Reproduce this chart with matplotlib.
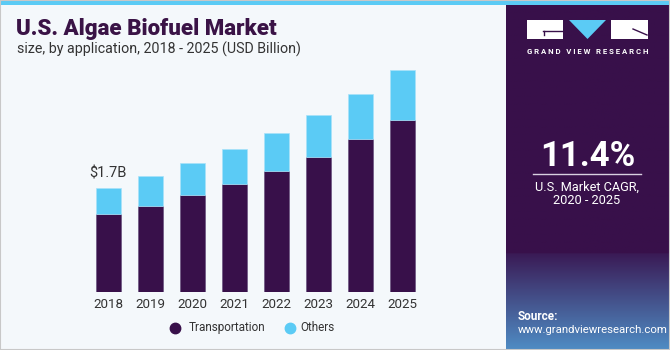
import matplotlib
matplotlib.use("Agg")
import matplotlib.pyplot as plt
import numpy as np
from matplotlib.patches import Rectangle, Polygon
from matplotlib.lines import Line2D

years = ["2018", "2019", "2020", "2021", "2022", "2023", "2024", "2025"]
transportation = [1.27, 1.41, 1.58, 1.76, 1.97, 2.21, 2.50, 2.81]
others = [0.43, 0.49, 0.52, 0.58, 0.62, 0.69, 0.74, 0.82]
first_label = "$1.7B"

W, H = 670, 350
DARK = "#38104a"
BLUE = "#5bcbf5"
BG = "#f4f8fb"

plt.rcParams['font.family'] = ['Roboto', 'DejaVu Sans']

fig = plt.figure(figsize=(W / 100, H / 100), dpi=100)
fig.patch.set_facecolor(BG)

def fx(px):
    return px / W

def fy(py):
    return 1 - py / H

# top stripe
fig.patches.append(Rectangle((0, fy(5)), 1, 5 / H, transform=fig.transFigure,
                             facecolor=BLUE, edgecolor='none', zorder=0))

# chart axes
left_px, right_px = 78.9, 431.9
bot_px, top_px = 292.0, 47.2
ax = fig.add_axes([fx(left_px), fy(bot_px), (right_px - left_px) / W, (bot_px - top_px) / H])
ax.set_facecolor('none')
x = np.arange(len(years))
ax.bar(x, transportation, width=0.59, color=DARK, edgecolor='#6b5580', linewidth=0.5)
ax.bar(x, others, width=0.59, bottom=transportation, color=BLUE, edgecolor='#a8e2f9', linewidth=0.5)
ax.set_xlim(-0.7, 7.7)
ax.set_ylim(0, 4.0)
for s in ax.spines.values():
    s.set_visible(False)
ax.set_yticks([])
ax.set_xticks(x)
ax.set_xticklabels(years, fontsize=9.6, color='#333333')
ax.tick_params(axis='x', length=0, pad=4)
ax.text(0, transportation[0] + others[0] + 0.12, first_label, ha='center', va='bottom',
        fontsize=10.5, color='#333333')

# title
fig.text(fx(16), fy(35), "U.S. Algae Biofuel Market", fontsize=16, fontweight='black',
         color='#3a1346', ha='left', va='baseline')
fig.text(fx(17), fy(54), "size, by application, 2018 - 2025 (USD Billion)", fontsize=10.3,
         color='#333333', ha='left', va='baseline')

# legend
fig.add_artist(Line2D([fx(175)], [fy(327.5)], marker='o', markersize=7.5, color=DARK,
                      transform=fig.transFigure, linestyle='none'))
fig.text(fx(189), fy(327.5), "Transportation", fontsize=8.5, color='#333333', ha='left', va='center')
fig.add_artist(Line2D([fx(290)], [fy(327.5)], marker='o', markersize=7.5, color=BLUE,
                      transform=fig.transFigure, linestyle='none'))
fig.text(fx(300), fy(327.5), "Others", fontsize=8.5, color='#333333', ha='left', va='center')

# right panel
axr = fig.add_axes([fx(506), 0, (W - 506) / W, fy(5)])
axr.set_axis_off()
n = 300
grad = np.zeros((n, 1, 3))
c_top = np.array([0x38, 0x10, 0x4a]) / 255
c_mid = np.array([0x3a, 0x1a, 0x55]) / 255
c_bot = np.array([0x4f, 0x8c, 0xc4]) / 255
for i in range(n):
    t = i / (n - 1)  # 0 top,1 bottom
    if t < 0.72:
        c = c_top
    else:
        u = (t - 0.72) / 0.28
        c = c_mid * (1 - u) + c_bot * u
    grad[i, 0] = c
axr.imshow(grad, aspect='auto', extent=[0, 1, 0, 1], origin='upper')
axr.set_xlim(0, 1)
axr.set_ylim(0, 1)

# logo
fig.patches.append(Rectangle((fx(527), fy(39)), 36 / W, 19 / H, transform=fig.transFigure,
                             facecolor='white', edgecolor='none'))
fig.patches.append(Rectangle((fx(611), fy(39)), 37 / W, 19 / H, transform=fig.transFigure,
                             facecolor='white', edgecolor='none'))
fig.patches.append(Polygon([(fx(569), fy(20)), (fx(606), fy(20)), (fx(587.5), fy(39))],
                           closed=True, transform=fig.transFigure, facecolor=BLUE, edgecolor='none'))
fig.add_artist(Line2D([fx(543), fx(563)], [fy(31), fy(31)], color=DARK, lw=1, transform=fig.transFigure))
fig.add_artist(Line2D([fx(544), fx(544)], [fy(31), fy(35)], color=DARK, lw=1, transform=fig.transFigure))
fig.add_artist(Line2D([fx(633), fx(647)], [fy(29), fy(35)], color=DARK, lw=1, transform=fig.transFigure))
fig.text(fx(587.5), fy(51), "G R A N D   V I E W   R E S E A R C H", fontsize=5.6, fontweight='bold',
         color='white', ha='center', va='center')

fig.text(fx(587.5), fy(166), "11.4%", fontsize=25, fontweight='bold', color='white',
         ha='center', va='baseline')
fig.add_artist(Line2D([fx(533), fx(641)], [fy(173.5), fy(173.5)], color='#d8d0e0', lw=1,
                      transform=fig.transFigure))
fig.text(fx(587), fy(187), "U.S. Market CAGR,", fontsize=9.2, color='white', ha='center', va='center')
fig.text(fx(587), fy(201), "2020 - 2025", fontsize=9.2, color='white', ha='center', va='center')
fig.text(fx(518), fy(316), "Source:", fontsize=8.5, fontweight='bold', color='white', ha='left', va='center')
fig.text(fx(518), fy(330), "www.grandviewresearch.com", fontsize=8.2, color='white', ha='left', va='center')

# border
fig.patches.append(Rectangle((0, 0), 1, 1, transform=fig.transFigure, facecolor='none',
                             edgecolor='#c8c8c8', linewidth=1.5, zorder=10))

fig.savefig("out.png", dpi=100, facecolor=fig.get_facecolor())
